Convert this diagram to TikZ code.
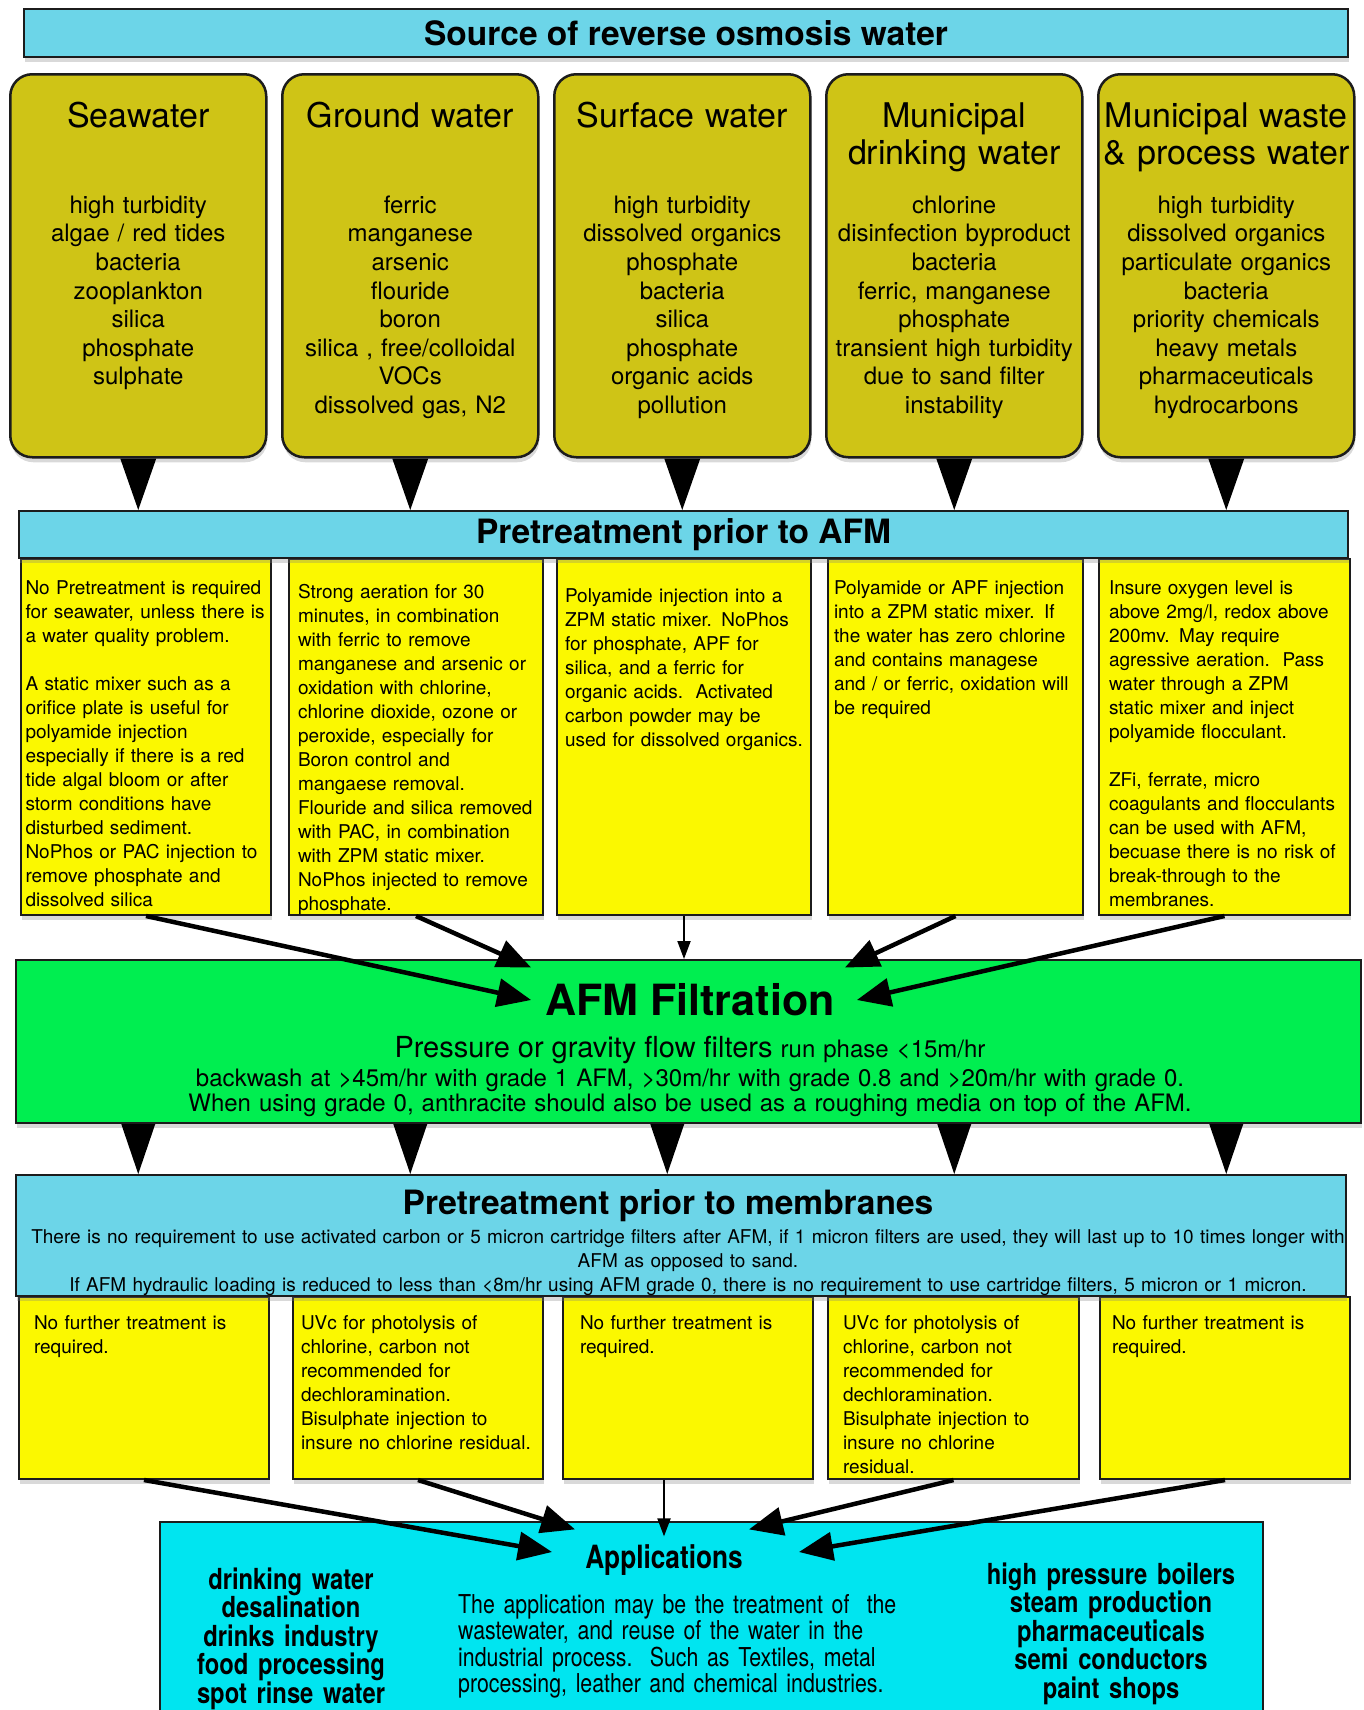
\documentclass[tikz,border=0pt]{standalone}
\usepackage{fontspec}
\setmainfont{TeX Gyre Heros}
\newfontfamily\condfont[FakeStretch=0.82]{TeX Gyre Heros}
\usetikzlibrary{arrows.meta,positioning,calc,shadows}
\definecolor{barblue}{RGB}{108,213,232}
\definecolor{srcolive}{RGB}{207,196,22}
\definecolor{noteyellow}{RGB}{251,248,0}
\definecolor{afmgreen}{RGB}{0,238,80}
\definecolor{appcyan}{RGB}{0,229,240}
\definecolor{edgegray}{RGB}{28,28,28}

\begin{document}
\begin{tikzpicture}[x=1pt,y=-1pt,
  boxshadow/.style={drop shadow={shadow xshift=1pt,shadow yshift=-5pt,
      opacity=0.3}},
  bar/.style={draw=edgegray,line width=2pt,fill=barblue,boxshadow,
      inner sep=0pt,font=\fontsize{33.5}{38}\selectfont\bfseries},
  srcbox/.style={draw=edgegray,line width=2.5pt,fill=srcolive,
      rounded corners=22pt,boxshadow,inner xsep=3pt,inner ysep=0pt,
      text width=250pt,align=center,text height=139pt,text depth=244pt,
      font=\fontsize{24}{28.6}\selectfont},
  srctitle/.style={inner sep=0pt,text width=250pt,align=center,
      font=\fontsize{34}{37}\selectfont},
  prebox/.style={draw=edgegray,line width=2pt,fill=noteyellow,boxshadow,
      anchor=north west,inner ysep=0pt,align=left,
      text height=35pt,text depth=321pt,font=\fontsize{19}{24}\selectfont},
  postbox/.style={prebox,text height=32pt,text depth=150pt},
  pointer/.style={fill=black},
  flowarrow/.style={-{Triangle[length=34pt,width=28pt]},line width=4.5pt},
  thinarrow/.style={-{Triangle[length=18pt,width=13pt]},line width=2pt}]
\useasboundingbox (0,0) rectangle (1364,1710);
\clip (0,0) rectangle (1364,1710);

\node[bar,minimum width=1324pt,minimum height=48pt] (srcbar) at (686,33)
  {Source of reverse osmosis water};

\node[srcbox,anchor=north west] (s1) at (9,73)
  {high turbidity\\algae / red tides\\bacteria\\zooplankton\\silica\\
   phosphate\\sulphate};
\node[srcbox,right=13.5pt of s1] (s2)
  {ferric\\manganese\\arsenic\\flouride\\boron\\silica , free/colloidal\\
   VOCs\\dissolved gas, N2};
\node[srcbox,right=13.5pt of s2] (s3)
  {high turbidity\\dissolved organics\\phosphate\\bacteria\\silica\\
   phosphate\\organic acids\\pollution};
\node[srcbox,right=13.5pt of s3] (s4)
  {chlorine\\disinfection byproduct\\bacteria\\ferric, manganese\\phosphate\\
   transient high turbidity\\due to sand filter\\instability};
\node[srcbox,right=13.5pt of s4] (s5)
  {high turbidity\\dissolved organics\\particulate organics\\bacteria\\
   priority chemicals\\heavy metals\\pharmaceuticals\\hydrocarbons};
\node[srctitle,below=54pt of s1.north,anchor=base] (s1t) {Seawater};
\node[srctitle,below=54pt of s2.north,anchor=base] (s2t) {Ground water};
\node[srctitle,below=54pt of s3.north,anchor=base] (s3t) {Surface water};
\node[srctitle,below=54pt of s4.north,anchor=base] (s4t)
  {Municipal\\drinking water};
\node[srctitle,below=54pt of s5.north,anchor=base] (s5t)
  {Municipal waste\\\& process water};

\node[prebox,inner xsep=4.5pt,text width=241pt] (pa1) at (20,558)
  {No Pretreatment is required\\for seawater, unless there is\\
   a water quality problem.\\[24pt]
   A static mixer such as a\\orifice plate is useful for\\
   polyamide injection\\especially if there is a red\\
   tide algal bloom or after\\storm conditions have\\
   disturbed sediment.\\NoPhos or PAC injection to\\
   remove phosphate and\\dissolved silica};
\node[prebox,inner xsep=9pt,text width=236pt,
      text height=39pt,text depth=317pt] (pa2) at (288,558)
  {Strong aeration for 30\\minutes, in combination\\
   with ferric to remove\\manganese and arsenic or\\
   oxidation with chlorine,\\chlorine dioxide, ozone or\\
   peroxide, especially for\\Boron control and\\
   mangaese removal.\\Flouride and silica removed\\
   with PAC, in combination\\with ZPM static mixer.\\
   NoPhos injected to remove\\phosphate.};
\node[prebox,inner xsep=8pt,text width=238pt,
      text height=43pt,text depth=313pt] (pa3) at (556,558)
  {Polyamide injection into a\\ZPM static mixer. NoPhos\\
   for phosphate, APF for\\silica, and a ferric for\\
   organic acids.\ \ Activated\\carbon powder may be\\
   used for dissolved organics.};
\node[prebox,inner xsep=6pt,text width=243pt] (pa4) at (827,558)
  {Polyamide or APF injection\\into a ZPM static mixer. If\\
   the water has zero chlorine\\and contains managese\\
   and / or ferric, oxidation will\\be required};
\node[prebox,inner xsep=10pt,text width=231pt] (pa5) at (1098,558)
  {Insure oxygen level is\\above 2mg/l, redox above\\
   200mv. May require\\agressive aeration.\ \ Pass\\
   water through a ZPM\\static mixer and inject\\
   polyamide flocculant.\\[24pt]
   ZFi, ferrate, micro\\coagulants and flocculants\\
   can be used with AFM,\\becuase there is no risk of\\
   break-through to the\\membranes.};

\node[bar,minimum width=1329pt,minimum height=47pt] (preafm) at (683.5,534.5)
  {Pretreatment prior to AFM};

\fill[pointer] (s1.south) ++(-18,0) -- ++(36,0) -- (s1.south |- preafm.north) -- cycle;
\fill[pointer] (s2.south) ++(-18,0) -- ++(36,0) -- (s2.south |- preafm.north) -- cycle;
\fill[pointer] (s3.south) ++(-18,0) -- ++(36,0) -- (s3.south |- preafm.north) -- cycle;
\fill[pointer] (s4.south) ++(-18,0) -- ++(36,0) -- (s4.south |- preafm.north) -- cycle;
\fill[pointer] (s5.south) ++(-18,0) -- ++(36,0) -- (s5.south |- preafm.north) -- cycle;

\node[draw=edgegray,line width=2pt,fill=afmgreen,boxshadow,
      minimum width=1345pt,minimum height=163pt] (afm) at (688.5,1041.5) {};
\node[inner sep=0pt,font=\fontsize{43}{48}\selectfont\bfseries] (afmt)
  at (690,1000) {AFM Filtration};
\node[inner sep=0pt,text width=1330pt,align=center,anchor=base,
      font=\fontsize{24}{25}\selectfont] (afmtxt) at (690,1057)
  {{\fontsize{29}{25}\selectfont Pressure or gravity flow filters}
   run phase <15m/hr\\[4pt]
   backwash at >45m/hr with grade 1 AFM, >30m/hr with grade 0.8 and
   >20m/hr with grade 0.\\
   When using grade 0, anthracite should also be used as a roughing media
   on top of the AFM.};

\draw[flowarrow] (pa1.south) -- ($(afmt.west)+(-14,0)$);
\draw[flowarrow] (pa2.south) -- ($(afmt.north west)+(-14,-16)$);
\draw[thinarrow] (pa3.south) -- (pa3.south |- afm.north);
\draw[flowarrow] (pa4.south) -- ($(afmt.north east)+(10,-16)$);
\draw[flowarrow] (pa5.south) -- ($(afmt.east)+(22,0)$);

\node[postbox,inner xsep=15pt,text width=220pt] (bm1) at (18,1296)
  {No further treatment is\\required.};
\node[postbox,inner xsep=8pt,text width=234pt] (bm2) at (292,1296)
  {UVc for photolysis of\\chlorine, carbon not\\recommended for\\
   dechloramination.\\Bisulphate injection to\\insure no chlorine residual.};
\node[postbox,inner xsep=17pt,text width=216pt] (bm3) at (562,1296)
  {No further treatment is\\required.};
\node[postbox,inner xsep=15pt,text width=221pt] (bm4) at (827,1296)
  {UVc for photolysis of\\chlorine, carbon not\\recommended for\\
   dechloramination.\\Bisulphate injection to\\insure no chlorine\\residual.};
\node[postbox,inner xsep=12pt,text width=226pt] (bm5) at (1099,1296)
  {No further treatment is\\required.};

\node[draw=edgegray,line width=2pt,fill=barblue,boxshadow,
      minimum width=1330pt,minimum height=121pt] (mem) at (681,1235.5) {};
\node[inner sep=0pt,anchor=base,font=\fontsize{33.5}{38}\selectfont\bfseries]
  (memt) at (668,1214) {Pretreatment prior to membranes};
\node[inner sep=0pt,text width=1320pt,align=center,anchor=base,
      font=\fontsize{19}{24}\selectfont] (memtxt) at (688,1243)
  {There is no requirement to use activated carbon or 5 micron cartridge
   filters after AFM, if 1 micron filters are used, they will last up to 10
   times longer with\\
   AFM as opposed to sand.\\
   If AFM hydraulic loading is reduced to less than <8m/hr using AFM grade 0,
   there is no requirement to use cartridge filters, 5 micron or 1 micron.};

\fill[pointer] (s1.south |- afm.south) ++(-17,0) -- ++(34,0) -- (s1.south |- mem.north) -- cycle;
\fill[pointer] (s2.south |- afm.south) ++(-17,0) -- ++(34,0) -- (s2.south |- mem.north) -- cycle;
\fill[pointer] ($(s3.south |- afm.south)+(-15,0)$) ++(-17,0) -- ++(34,0)
  -- ($(s3.south |- mem.north)+(-15,0)$) -- cycle;
\fill[pointer] (s4.south |- afm.south) ++(-17,0) -- ++(34,0) -- (s4.south |- mem.north) -- cycle;
\fill[pointer] (s5.south |- afm.south) ++(-17,0) -- ++(34,0) -- (s5.south |- mem.north) -- cycle;

\node[draw=edgegray,line width=2pt,fill=appcyan,boxshadow,anchor=north west,
      minimum width=1103pt,minimum height=230pt] (apps) at (159,1521) {};
\node[inner sep=0pt,font=\condfont\fontsize{32}{36}\selectfont\bfseries]
  (appt) at (664,1560) {Applications};
\node[inner sep=0pt,text width=300pt,align=center,anchor=base,
      font=\condfont\fontsize{29}{28.5}\selectfont\bfseries] (appl) at (291,1589)
  {drinking water\\desalination\\drinks industry\\food processing\\
   spot rinse water};
\node[inner sep=0pt,text width=520pt,align=left,anchor=base west,
      font=\condfont\fontsize{26}{26.6}\selectfont] (appm) at (458,1613)
  {The application may be the treatment of\ \ the\\
   wastewater, and reuse of the water in the\\
   industrial process.\ \ Such as Textiles, metal\\
   processing, leather and chemical industries.};
\node[inner sep=0pt,text width=300pt,align=center,anchor=base,
      font=\condfont\fontsize{29}{28.5}\selectfont\bfseries] (appr) at (1111,1584)
  {high pressure boilers\\steam production\\pharmaceuticals\\
   semi conductors\\paint shops};

\draw[flowarrow] (bm1.south) -- ($(appt.west)+(-33,-8)$);
\draw[flowarrow] (bm2.south) -- ($(appt.north west)+(-10,-15)$);
\draw[thinarrow] (appt.north |- bm3.south) -- ($(appt.north)+(0,-8)$);
\draw[flowarrow] (bm4.south) -- ($(appt.north east)+(6,-15)$);
\draw[flowarrow] (bm5.south) -- ($(appt.east)+(56,-8)$);
\end{tikzpicture}
\end{document}
